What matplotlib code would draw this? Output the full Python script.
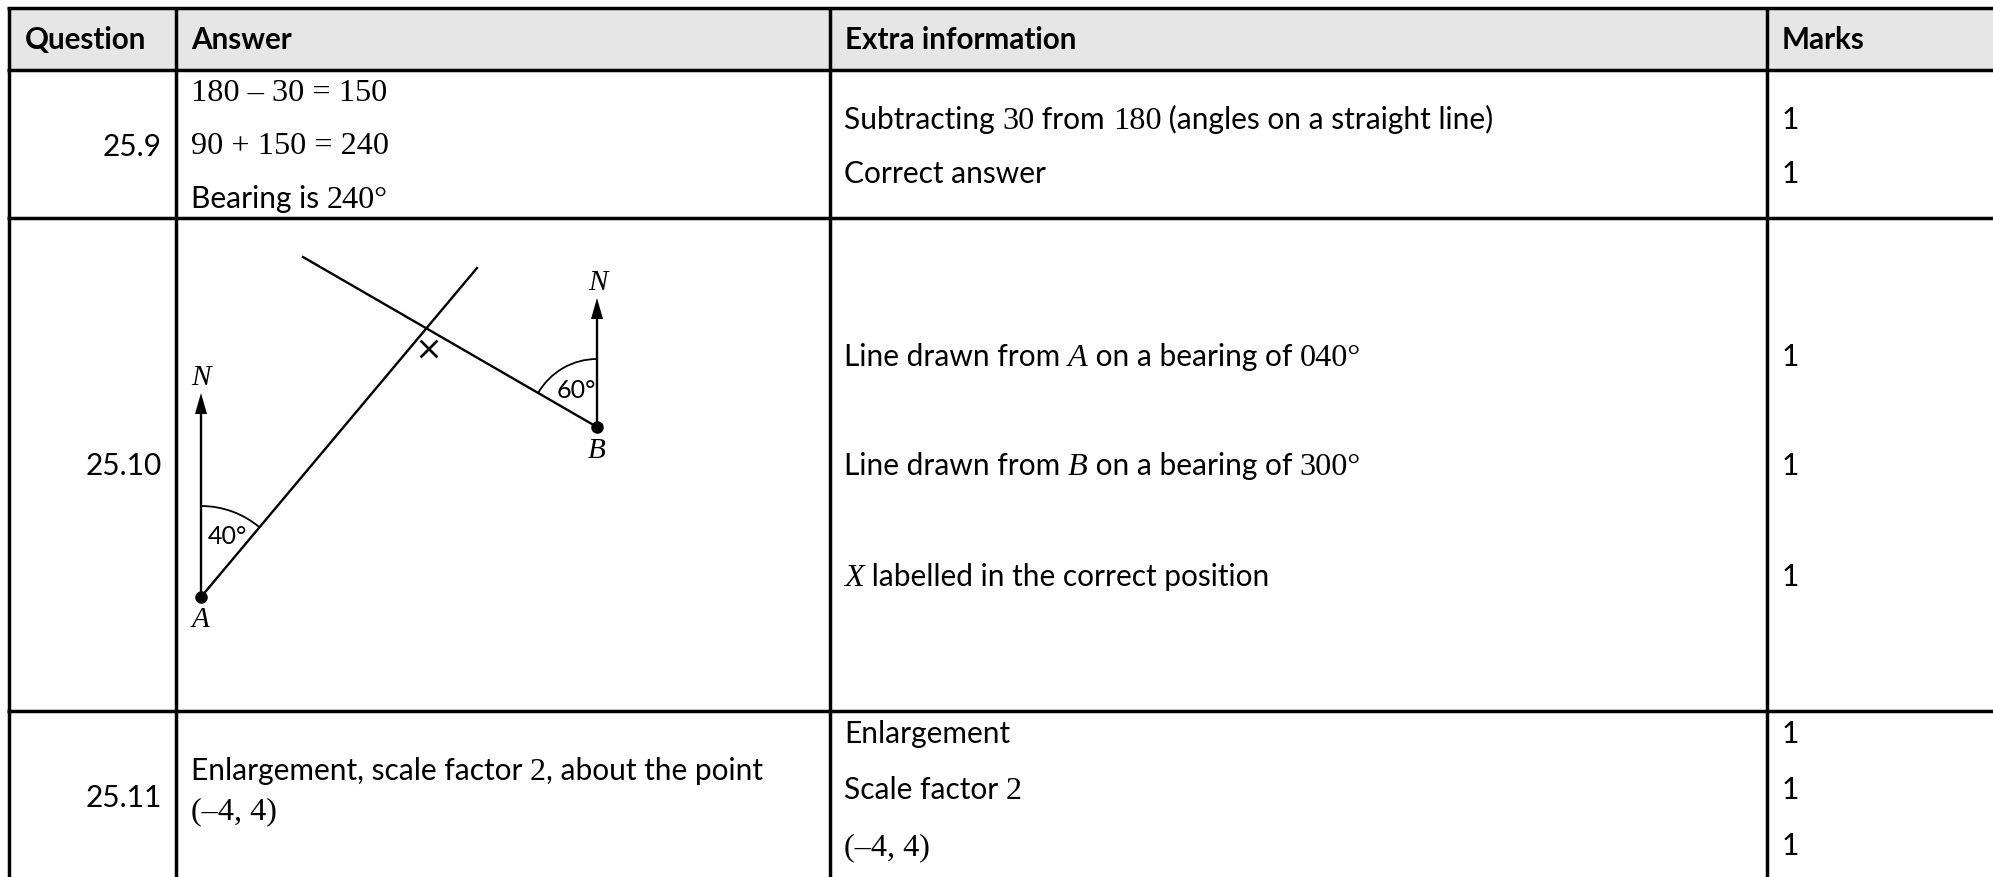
import numpy as np
import matplotlib
matplotlib.use("Agg")
import matplotlib.pyplot as plt
from matplotlib.patches import Arc, Polygon, Rectangle

# table content, S = sans text, M = serif maths, I = serif italic
headers = ["Question", "Answer", "Extra information", "Marks"]
questions = ["25.9", "25.10", "25.11"]
answers_259 = [[("M", "180 – 30 = 150")],
               [("M", "90 + 150 = 240")],
               [("S", "Bearing is "), ("M", "240°")]]
answers_2511 = [[("S", "Enlargement, scale factor "), ("M", "2"), ("S", ", about the point")],
                [("M", "(–4, 4)")]]
extra_info = [[("S", "Subtracting "), ("M", "30"), ("S", " from "), ("M", "180"), ("S", " (angles on a straight line)")],
              [("S", "Correct answer")],
              [("S", "Line drawn from "), ("I", "A"), ("S", " on a bearing of "), ("M", "040°")],
              [("S", "Line drawn from "), ("I", "B"), ("S", " on a bearing of "), ("M", "300°")],
              [("I", "X"), ("S", " labelled in the correct position")],
              [("S", "Enlargement")],
              [("S", "Scale factor "), ("M", "2")],
              [("M", "(–4, 4)")]]
marks = ["1", "1", "1", "1", "1", "1", "1", "1"]

# baselines in pixels of the reference
question_y = [156, 475, 807]
answer_y = [101, 154, 208]
answer2_y = [780, 819]
extra_y = [129, 183, 366, 475, 586, 743, 799, 855]

# grid lines
col_x = [9, 176, 830, 1767]
row_y = [8, 70, 218, 711]

# diagram
A = (201, 597)
B = (597, 427)
line_a_end = (477, 268)
line_b_end = (303, 257)
north_a_tip = 393
north_b_tip = 298
cross = (429, 349)
arc_a_r = 91
arc_b_r = 68

W, H = 1993, 877
fig = plt.figure(figsize=(W / 100, H / 100), dpi=100)
ax = fig.add_axes([0, 0, 1, 1])
ax.set_xlim(0, W)
ax.set_ylim(H, 0)
ax.axis("off")

styles = {"S": dict(family="Lato", size=21.5),
          "M": dict(family="Liberation Serif", size=23.2),
          "I": dict(family="Liberation Serif", size=23.2, style="italic")}
renderer = fig.canvas.get_renderer()


def probe_width(s, kind):
    t = ax.text(0, 0, "|" + s + "|", **styles[kind])
    w = t.get_window_extent(renderer).width
    t.remove()
    t = ax.text(0, 0, "||", **styles[kind])
    w -= t.get_window_extent(renderer).width
    t.remove()
    return w


def rich(x, y, parts):
    for kind, s in parts:
        ax.text(x, y, s, va="baseline", ha="left", color="black", **styles[kind])
        x += probe_width(s, kind)


# header band
ax.add_patch(Rectangle((col_x[0], row_y[0]), W - col_x[0], row_y[1] - row_y[0], color="#e6e6e6", lw=0))

LW = 2.5
for x in col_x:
    ax.plot([x, x], [row_y[0], H], color="black", lw=LW, solid_capstyle="butt")
for y in row_y:
    ax.plot([col_x[0] - 1.5, W], [y, y], color="black", lw=LW, solid_capstyle="butt")

# header row
for x, s in zip([25, 191, 845, 1782], headers):
    ax.text(x, 49, s, family="Lato", weight="bold", size=21.3, va="baseline", color="black")

for y, q in zip(question_y, questions):
    ax.text(162, y, q, ha="right", va="baseline", color="black", **styles["S"])

for y, parts in zip(answer_y, answers_259):
    rich(191, y, parts)
for y, parts in zip(answer2_y, answers_2511):
    rich(191, y, parts)
for y, parts, m in zip(extra_y, extra_info, marks):
    rich(844, y, parts)
    ax.text(1782, y, m, va="baseline", color="black", **styles["S"])

# diagram lines
DW = 1.7
ax.plot([A[0], line_a_end[0]], [A[1], line_a_end[1]], color="black", lw=DW)
ax.plot([B[0], line_b_end[0]], [B[1], line_b_end[1]], color="black", lw=DW)
ax.plot([A[0], A[0]], [A[1], north_a_tip + 10], color="black", lw=DW)
ax.plot([B[0], B[0]], [B[1], north_b_tip + 10], color="black", lw=DW)
for px, tip in [(A[0], north_a_tip), (B[0], north_b_tip)]:
    ax.add_patch(Polygon([(px, tip), (px - 6, tip + 21), (px + 6, tip + 21)], color="black", lw=0))
ax.plot([A[0]], [A[1]], "o", color="black", ms=8)
ax.plot([B[0]], [B[1]], "o", color="black", ms=8)

# y axis is flipped so arc angles run clockwise from +x on screen
ax.add_patch(Arc(A, 2 * arc_a_r, 2 * arc_a_r, theta1=-90, theta2=-50, color="black", lw=1.3))
ax.add_patch(Arc(B, 2 * arc_b_r, 2 * arc_b_r, theta1=-150, theta2=-90, color="black", lw=1.3))

d = 7.5
ax.plot([cross[0] - d, cross[0] + d], [cross[1] - d, cross[1] + d], color="black", lw=1.9)
ax.plot([cross[0] - d, cross[0] + d], [cross[1] + d, cross[1] - d], color="black", lw=1.9)

lab = dict(family="Liberation Serif", style="italic", size=21, ha="center", va="center", color="black")
ax.text(201, 378, "N", **lab)
ax.text(597.5, 283, "N", **lab)
ax.text(200, 620, "A", **lab)
ax.text(597, 451, "B", **lab)
ax.text(227, 537, "40°", family="Lato", size=18, ha="center", va="center", color="black")
ax.text(576, 390, "60°", family="Lato", size=18, ha="center", va="center", color="black")

fig.savefig("out.png", dpi=100)
